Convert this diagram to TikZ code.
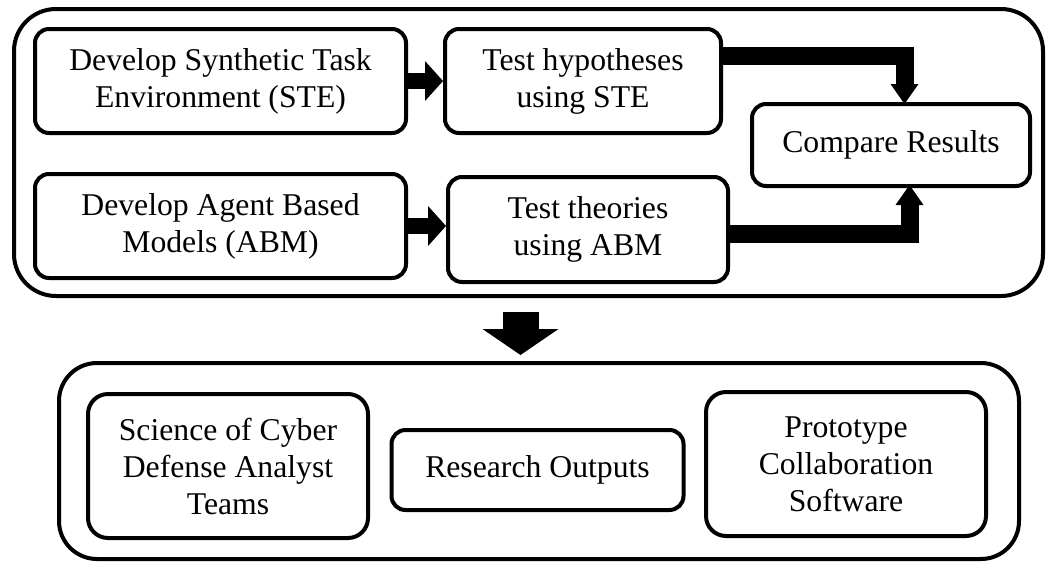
\documentclass[tikz,border=0pt]{standalone}
\usepackage{fontspec}
\setmainfont{Liberation Serif}
\usetikzlibrary{arrows.meta,calc}

\tikzset{
  stagebox/.style={draw=black, line width=4pt, rounded corners=14pt, align=center,
    inner sep=0pt, font=\fontsize{31.7}{37}\selectfont},
  groupbox/.style={draw=black, line width=4pt, inner sep=0pt},
  blockarrow/.style={line width=#1, draw=black},
  smalltip/.style={-{Triangle[width=40pt,length=18pt,line width=0pt]}},
  elbowtip/.style={-{Triangle[width=28pt,length=20pt,line width=0pt]}},
  bigtip/.style={-{Triangle[width=76pt,length=26pt,line width=0pt]}}
}

\begin{document}
\begin{tikzpicture}[x=1pt, y=-1pt, line join=miter]
\useasboundingbox (0,0) rectangle (1049,563);

% outer groups
\node[groupbox, rounded corners=42pt, minimum width=1029pt, minimum height=287pt]
  (study) at (528.5,152.5) {};
\node[groupbox, rounded corners=38pt, minimum width=960pt, minimum height=196pt]
  (outputs) at (539,461) {};

% research activities
\node[stagebox, minimum width=371pt, minimum height=104pt] (ste) at (220.5,81)
  {Develop Synthetic Task\\Environment (STE)};
\node[stagebox, minimum width=276pt, minimum height=104pt] (hyp) at (583,81)
  {Test hypotheses\\using STE};
\node[stagebox, minimum width=371pt, minimum height=104pt] (abm) at (220.5,226)
  {Develop Agent Based\\Models (ABM)};
\node[stagebox, minimum width=280pt, minimum height=105pt] (thy) at (588,229.5)
  {Test theories\\using ABM};
\node[stagebox, minimum width=278pt, minimum height=82pt] (cmp) at (891,145)
  {Compare Results};

% research outputs
\node[stagebox, rounded corners=20pt, minimum width=280pt, minimum height=144pt] (sci) at (228,466)
  {Science of Cyber\\Defense Analyst\\Teams};
\node[stagebox, minimum width=292pt, minimum height=80pt] (res) at (537.5,470)
  {Research Outputs};
\node[stagebox, rounded corners=20pt, minimum width=280pt, minimum height=144pt] (pro) at (846,464)
  {Prototype\\Collaboration\\Software};

% connectors
\draw[blockarrow=16pt, smalltip] (ste.east) -- (hyp.west);
\draw[blockarrow=16pt, smalltip] (abm.east) -- (abm.east -| thy.west);

\coordinate (upper) at (904.5,56);
\coordinate (lower) at (909.5,234);
\draw[blockarrow=18pt, elbowtip] (hyp.east |- upper) -- (upper) -- ($(upper |- cmp.north)+(0,2)$);
\draw[blockarrow=18pt, elbowtip] (thy.east |- lower) -- (lower) -- ($(lower |- cmp.south)+(0,-3)$);

\coordinate (drop) at (520.5,0);
\draw[blockarrow=36pt, bigtip] ($(study.south -| drop)+(0,14)$) -- ($(outputs.north -| drop)+(0,-6)$);
\end{tikzpicture}
\end{document}
